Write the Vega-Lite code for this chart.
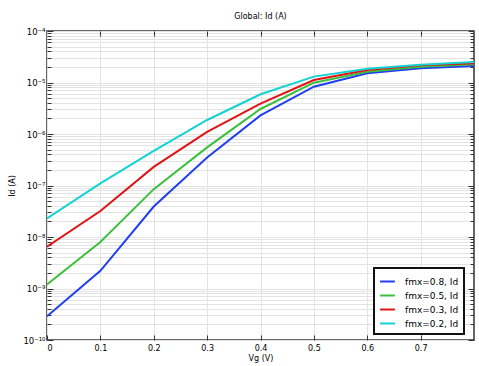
{
  "$schema": "https://vega.github.io/schema/vega-lite/v6.json",
  "autosize": {"type": "none"},
  "width": 427,
  "height": 309,
  "padding": {"left": 47, "top": 31, "right": 5, "bottom": 26},
  "title": {"text": "Global: Id (A)", "fontSize": 8, "fontWeight": "normal", "font": "DejaVu Sans", "offset": 6, "color": "#000"},
  "config": {
    "font": "DejaVu Sans",
    "view": {"stroke": "#333", "strokeWidth": 1.5},
    "axis": {"labelFont": "DejaVu Sans", "titleFont": "DejaVu Sans", "labelFontSize": 8, "titleFontSize": 8, "titleFontWeight": "normal", "labelColor": "#000", "titleColor": "#000", "gridColor": "#e3e3e3", "gridWidth": 1, "tickColor": "#333", "domain": false}
  },
  "data": {"values": [
    {"vg": 0.0, "id": 2.9e-10, "s": "fmx=0.8, Id"},
    {"vg": 0.1, "id": 2.2e-9, "s": "fmx=0.8, Id"},
    {"vg": 0.2, "id": 3.9e-8, "s": "fmx=0.8, Id"},
    {"vg": 0.3, "id": 3.5e-7, "s": "fmx=0.8, Id"},
    {"vg": 0.4, "id": 2.3e-6, "s": "fmx=0.8, Id"},
    {"vg": 0.5, "id": 8.3e-6, "s": "fmx=0.8, Id"},
    {"vg": 0.6, "id": 1.51e-5, "s": "fmx=0.8, Id"},
    {"vg": 0.7, "id": 1.89e-5, "s": "fmx=0.8, Id"},
    {"vg": 0.8, "id": 2.09e-5, "s": "fmx=0.8, Id"},
    {"vg": 0.0, "id": 1.2e-9, "s": "fmx=0.5, Id"},
    {"vg": 0.1, "id": 8.0e-9, "s": "fmx=0.5, Id"},
    {"vg": 0.2, "id": 8.5e-8, "s": "fmx=0.5, Id"},
    {"vg": 0.3, "id": 5.5e-7, "s": "fmx=0.5, Id"},
    {"vg": 0.4, "id": 3.06e-6, "s": "fmx=0.5, Id"},
    {"vg": 0.5, "id": 9.9e-6, "s": "fmx=0.5, Id"},
    {"vg": 0.6, "id": 1.62e-5, "s": "fmx=0.5, Id"},
    {"vg": 0.7, "id": 2.03e-5, "s": "fmx=0.5, Id"},
    {"vg": 0.8, "id": 2.26e-5, "s": "fmx=0.5, Id"},
    {"vg": 0.0, "id": 6.5e-9, "s": "fmx=0.3, Id"},
    {"vg": 0.1, "id": 3.2e-8, "s": "fmx=0.3, Id"},
    {"vg": 0.2, "id": 2.3e-7, "s": "fmx=0.3, Id"},
    {"vg": 0.3, "id": 1.1e-6, "s": "fmx=0.3, Id"},
    {"vg": 0.4, "id": 3.9e-6, "s": "fmx=0.3, Id"},
    {"vg": 0.5, "id": 1.12e-5, "s": "fmx=0.3, Id"},
    {"vg": 0.6, "id": 1.75e-5, "s": "fmx=0.3, Id"},
    {"vg": 0.7, "id": 2.16e-5, "s": "fmx=0.3, Id"},
    {"vg": 0.8, "id": 2.36e-5, "s": "fmx=0.3, Id"},
    {"vg": 0.0, "id": 2.3e-8, "s": "fmx=0.2, Id"},
    {"vg": 0.1, "id": 1.1e-7, "s": "fmx=0.2, Id"},
    {"vg": 0.2, "id": 4.7e-7, "s": "fmx=0.2, Id"},
    {"vg": 0.3, "id": 1.87e-6, "s": "fmx=0.2, Id"},
    {"vg": 0.4, "id": 5.9e-6, "s": "fmx=0.2, Id"},
    {"vg": 0.5, "id": 1.3e-5, "s": "fmx=0.2, Id"},
    {"vg": 0.6, "id": 1.85e-5, "s": "fmx=0.2, Id"},
    {"vg": 0.7, "id": 2.22e-5, "s": "fmx=0.2, Id"},
    {"vg": 0.8, "id": 2.5e-5, "s": "fmx=0.2, Id"}
  ]},
  "layer": [
    {
      "mark": {"type": "line", "strokeWidth": 2, "clip": true},
      "encoding": {
        "x": {"field": "vg", "type": "quantitative", "scale": {"domain": [0, 0.8], "nice": false, "zero": false},
          "axis": {"orient": "bottom", "title": "Vg (V)", "values": [0, 0.1, 0.2, 0.3, 0.4, 0.5, 0.6, 0.7], "format": ".1~f", "grid": true, "tickSize": -5, "labelPadding": 9, "titlePadding": 2}},
        "y": {"field": "id", "type": "quantitative", "scale": {"type": "log", "domain": [1e-10, 1e-4], "nice": false},
          "axis": {"orient": "left", "title": "Id (A)", "titlePadding": 6, "grid": true, "labelPadding": 8, "labelFontSize": 8.5,
            "values": [1e-10,2e-10,3e-10,4e-10,5e-10,6e-10,7e-10,8e-10,9e-10,1e-9,2e-9,3e-9,4e-9,5e-9,6e-9,7e-9,8e-9,9e-9,1e-8,2e-8,3e-8,4e-8,5e-8,6e-8,7e-8,8e-8,9e-8,1e-7,2e-7,3e-7,4e-7,5e-7,6e-7,7e-7,8e-7,9e-7,1e-6,2e-6,3e-6,4e-6,5e-6,6e-6,7e-6,8e-6,9e-6,1e-5,2e-5,3e-5,4e-5,5e-5,6e-5,7e-5,8e-5,9e-5,1e-4],
            "tickSize": {"condition": {"test": "abs(log(datum.value)/LN10 - round(log(datum.value)/LN10)) < 0.001", "value": -6}, "value": -4},
            "labelExpr": "abs(log(datum.value)/LN10 - round(log(datum.value)/LN10)) < 0.001 ? (round(log(datum.value)/LN10) == -4 ? '10⁻⁴' : round(log(datum.value)/LN10) == -5 ? '10⁻⁵' : round(log(datum.value)/LN10) == -6 ? '10⁻⁶' : round(log(datum.value)/LN10) == -7 ? '10⁻⁷' : round(log(datum.value)/LN10) == -8 ? '10⁻⁸' : round(log(datum.value)/LN10) == -9 ? '10⁻⁹' : '10⁻¹⁰') : ''"}},
        "color": {"field": "s", "type": "nominal",
          "scale": {"domain": ["fmx=0.8, Id", "fmx=0.5, Id", "fmx=0.3, Id", "fmx=0.2, Id"], "range": ["#1f3ff0", "#3cbf3c", "#e01414", "#14d2d2"]},
          "legend": {"orient": "none", "legendX": 327, "legendY": 237, "title": null, "symbolType": "stroke", "symbolStrokeWidth": 2, "symbolSize": 220, "labelFontSize": 9, "labelFont": "DejaVu Sans", "labelColor": "#000", "strokeColor": "#111", "fillColor": "#fff", "padding": 5, "rowPadding": 0, "labelOffset": 9,
            "encode": {"legend": {"update": {"strokeWidth": {"value": 2}}}}}}
      }
    },
    {
      "mark": {"type": "line", "opacity": 0},
      "encoding": {
        "x": {"field": "vg", "type": "quantitative", "axis": {"orient": "top", "title": null, "labels": false, "grid": false, "values": [0.1, 0.2, 0.3, 0.4, 0.5, 0.6, 0.7], "tickSize": -5}},
        "y": {"field": "id", "type": "quantitative", "scale": {"type": "log"},
          "axis": {"orient": "right", "title": null, "labels": false, "grid": false,
            "values": [1e-10,2e-10,3e-10,4e-10,5e-10,6e-10,7e-10,8e-10,9e-10,1e-9,2e-9,3e-9,4e-9,5e-9,6e-9,7e-9,8e-9,9e-9,1e-8,2e-8,3e-8,4e-8,5e-8,6e-8,7e-8,8e-8,9e-8,1e-7,2e-7,3e-7,4e-7,5e-7,6e-7,7e-7,8e-7,9e-7,1e-6,2e-6,3e-6,4e-6,5e-6,6e-6,7e-6,8e-6,9e-6,1e-5,2e-5,3e-5,4e-5,5e-5,6e-5,7e-5,8e-5,9e-5,1e-4],
            "tickSize": {"condition": {"test": "abs(log(datum.value)/LN10 - round(log(datum.value)/LN10)) < 0.001", "value": -6}, "value": -4}}}
      }
    }
  ],
  "resolve": {"axis": {"x": "independent", "y": "independent"}}
}
